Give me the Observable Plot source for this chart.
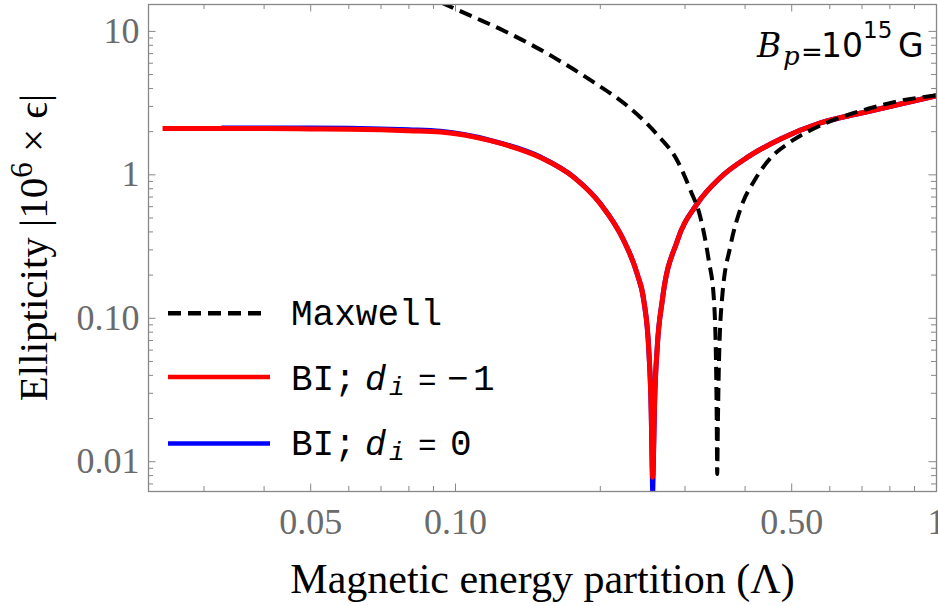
<!DOCTYPE html>
<html>
<head>
<meta charset="utf-8">
<script src="https://cdn.jsdelivr.net/npm/d3@7"></script>
<script src="https://cdn.jsdelivr.net/npm/@observablehq/plot@0.6"></script>
<style>
  body { margin: 0; background: #fff; }
  #chart { position: relative; width: 938px; height: 606px; }
</style>
</head>
<body>
<div id="chart"></div>
<script>
// ---- data ----
const lamRed = [0.0246, 0.03, 0.04, 0.05, 0.06, 0.07, 0.08, 0.0931, 0.1182, 0.1502, 0.1762, 0.2002, 0.2239, 0.2387, 0.2464, 0.2524, 0.2552, 0.2564, 0.2570, 0.2577, 0.2593, 0.2627, 0.2690, 0.2892, 0.3181, 0.3555, 0.4040, 0.4739, 0.5738, 0.7064, 0.8419, 1.0];
const epsRed = [2.10, 2.10, 2.10, 2.09, 2.08, 2.06, 2.03, 1.99, 1.73, 1.32, 0.96, 0.626, 0.347, 0.203, 0.132, 0.058, 0.0225, 0.0095, 0.0078, 0.0095, 0.025, 0.063, 0.132, 0.347, 0.629, 0.959, 1.322, 1.777, 2.30, 2.72, 3.12, 3.56];

const lamBlue = [0.0326, 0.04, 0.05, 0.06, 0.07, 0.08, 0.0931, 0.1182, 0.1502, 0.1762, 0.2002, 0.2239, 0.2387, 0.2464, 0.2524, 0.2552, 0.2564, 0.2570, 0.2577, 0.2593, 0.2627, 0.2690, 0.2892, 0.3181, 0.3555, 0.4040, 0.4739, 0.5738, 0.7064, 0.8419, 1.0];
const epsBlue = [2.12, 2.12, 2.12, 2.11, 2.09, 2.06, 2.01, 1.74, 1.33, 0.965, 0.628, 0.347, 0.203, 0.132, 0.058, 0.0225, 0.0090, 0.0062, 0.0090, 0.025, 0.063, 0.132, 0.347, 0.629, 0.959, 1.322, 1.777, 2.30, 2.72, 3.12, 3.56];

const lamMax = [0.0935, 0.1074, 0.1260, 0.1601, 0.1940, 0.2275, 0.2620, 0.2892, 0.3082, 0.3230, 0.3362, 0.3443, 0.3480, 0.3493, 0.3500, 0.3511, 0.3530, 0.3584, 0.3730, 0.3913, 0.4205, 0.4588, 0.4896, 0.6021, 0.7178, 0.8419, 1.0];
const epsMax = [15.85, 12.87, 10.11, 6.59, 4.41, 3.03, 1.925, 1.254, 0.775, 0.5045, 0.2518, 0.1396, 0.05, 0.018, 0.0082, 0.018, 0.05, 0.1396, 0.3203, 0.580, 0.939, 1.381, 1.640, 2.365, 2.876, 3.287, 3.58];

const xMajor = [0.05, 0.1, 0.5, 1];
const xMinor = [0.03, 0.04, 0.06, 0.07, 0.08, 0.09, 0.2, 0.3, 0.4, 0.6, 0.7, 0.8, 0.9];
const yMajor = [0.01, 0.1, 1, 10];
const yMinor = [0.007, 0.008, 0.009, 0.02, 0.03, 0.04, 0.05, 0.06, 0.07, 0.08, 0.09, 0.2, 0.3, 0.4, 0.5, 0.6, 0.7, 0.8, 0.9, 2, 3, 4, 5, 6, 7, 8, 9];
const xTickLabels = ["0.05", "0.10", "0.50", "1"];
const yTickLabels = ["0.01", "0.10", "1", "10"];

const xLabel = "Magnetic energy partition (Λ)";
const yLabelParts = ["Ellipticity |10", "6", " × ϵ|"];
const seriesNames = ["Maxwell", "BI;", "d", "i", "=", "−", "1", "0"];
const annotationParts = ["B", "p", "=", "10", "15", "G"];

// ---- build ----
const W = 938, H = 606, ML = 148, MR = 2, MT = 4, MB = 115;
const FW = W - ML - MR, FH = H - MT - MB;
const toRows = (xs, ys) => xs.map((x, i) => ({lam: x, eps: ys[i]}));
const red = toRows(lamRed, epsRed), blue = toRows(lamBlue, epsBlue), maxw = toRows(lamMax, epsMax);
const axisGray = "#888";
const MAJ = 7.5, MIN = 5;

const plot = Plot.plot({
  width: W, height: H,
  marginLeft: ML, marginRight: MR, marginTop: MT, marginBottom: MB,
  x: {type: "log", domain: [0.023, 1]},
  y: {type: "log", domain: [0.0062, 15.4]},
  style: {fontFamily: "'Liberation Serif', 'Times New Roman', serif", background: "#fff", overflow: "visible"},
  marks: [
    // ticks on all four sides, pointing inward
    Plot.ruleX(xMajor, {stroke: axisGray, insetTop: FH - MAJ}),
    Plot.ruleX(xMajor, {stroke: axisGray, insetBottom: FH - MAJ}),
    Plot.ruleX(xMinor, {stroke: axisGray, insetTop: FH - MIN}),
    Plot.ruleX(xMinor, {stroke: axisGray, insetBottom: FH - MIN}),
    Plot.ruleY(yMajor, {stroke: axisGray, insetRight: FW - MAJ}),
    Plot.ruleY(yMajor, {stroke: axisGray, insetLeft: FW - MAJ}),
    Plot.ruleY(yMinor, {stroke: axisGray, insetRight: FW - MIN}),
    Plot.ruleY(yMinor, {stroke: axisGray, insetLeft: FW - MIN}),
    Plot.axisX({ticks: xMajor, tickSize: 0, tickPadding: 17, label: null,
      tickFormat: d => xTickLabels[xMajor.indexOf(d)], fontSize: 36, fill: "#6b6b6b"}),
    Plot.axisY({ticks: yMajor, tickSize: 0, tickPadding: 9, label: null,
      tickFormat: d => yTickLabels[yMajor.indexOf(d)], fontSize: 36, fill: "#6b6b6b"}),
    Plot.line(blue, {x: "lam", y: "eps", stroke: "#0000ff", strokeWidth: 5, curve: "monotone-x", clip: true, strokeLinecap: "butt"}),
    Plot.line(red, {x: "lam", y: "eps", stroke: "#ff0000", strokeWidth: 5, curve: "monotone-x", clip: true, strokeLinecap: "butt"}),
    Plot.line(maxw, {x: "lam", y: "eps", stroke: "#000", strokeWidth: 4, strokeDasharray: "13,7", curve: "monotone-x", clip: true, strokeLinecap: "butt"}),
    Plot.frame({stroke: axisGray, strokeWidth: 1.3}),
    Plot.text([xLabel], {text: d => d, frameAnchor: "bottom", dy: 101, lineAnchor: "bottom", fontSize: 42, fill: "#000"})
  ]
});
document.getElementById("chart").appendChild(plot);

const svg = d3.select(plot);

// y-axis label with superscript
const yl = svg.append("text")
  .attr("transform", `translate(47,${MT + FH / 2}) rotate(-90)`)
  .attr("text-anchor", "middle")
  .attr("font-family", "'Liberation Serif', 'Times New Roman', serif")
  .attr("font-size", 41).attr("fill", "#000");
yl.append("tspan").text(yLabelParts[0]);
yl.append("tspan").attr("dy", -15).attr("font-size", 31).text(yLabelParts[1]);
yl.append("tspan").attr("dy", 15).text(yLabelParts[2]);

// annotation B_p = 10^15 G
const ann = svg.append("text").attr("y", 57).attr("text-anchor", "start")
  .attr("font-family", "'DejaVu Sans', sans-serif").attr("font-size", 33).attr("fill", "#000");
ann.append("tspan").attr("x", 757).attr("font-family", "'DejaVu Serif', serif").attr("font-style", "italic").text(annotationParts[0]);
ann.append("tspan").attr("x", 783).attr("dy", 8).attr("font-family", "'DejaVu Serif', serif").attr("font-style", "italic").attr("font-size", 26).text(annotationParts[1]);
ann.append("tspan").attr("x", 801).attr("dy", -4).attr("font-size", 26).text(annotationParts[2]);
ann.append("tspan").attr("x", 821).attr("dy", -4).text(annotationParts[3]);
ann.append("tspan").attr("x", 863).attr("dy", -19).attr("font-size", 23).text(annotationParts[4]);
ann.append("tspan").attr("x", 898).attr("dy", 19).text(annotationParts[5]);

// legend
const leg = svg.append("g").attr("text-anchor", "start");
const legRows = [
  {y: 313.3, x2: 265, stroke: "#000", dash: "13,7", base: 325},
  {y: 377, x2: 270, stroke: "#ff0000", dash: null, base: 390},
  {y: 443.5, x2: 270, stroke: "#0000ff", dash: null, base: 455}
];
legRows.forEach(r => {
  leg.append("line").attr("x1", 168).attr("x2", r.x2).attr("y1", r.y).attr("y2", r.y)
    .attr("stroke", r.stroke).attr("stroke-width", 4.5).attr("stroke-dasharray", r.dash);
});
const mono = "'Liberation Mono', 'Courier New', monospace";
leg.append("text").attr("x", 291).attr("y", legRows[0].base).attr("text-anchor", "start")
  .attr("font-family", mono).attr("font-size", 36).text(seriesNames[0]);
[1, 2].forEach(k => {
  const t = leg.append("text").attr("y", legRows[k].base).attr("text-anchor", "start")
    .attr("font-family", mono).attr("font-size", 36).attr("fill", "#000");
  t.append("tspan").attr("x", 291).text(seriesNames[1]);
  t.append("tspan").attr("x", 365).attr("font-style", "italic").attr("font-size", 35).text(seriesNames[2]);
  t.append("tspan").attr("x", 389).attr("dy", 5).attr("font-style", "italic").attr("font-size", 26).text(seriesNames[3]);
  t.append("tspan").attr("x", 418).attr("dy", -5).attr("font-size", 31).text(seriesNames[4]);
  if (k === 1) {
    t.append("tspan").attr("x", 447).text(seriesNames[5]);
    t.append("tspan").attr("x", 473).text(seriesNames[6]);
  } else {
    t.append("tspan").attr("x", 450).text(seriesNames[7]);
  }
});
</script>
</body>
</html>
